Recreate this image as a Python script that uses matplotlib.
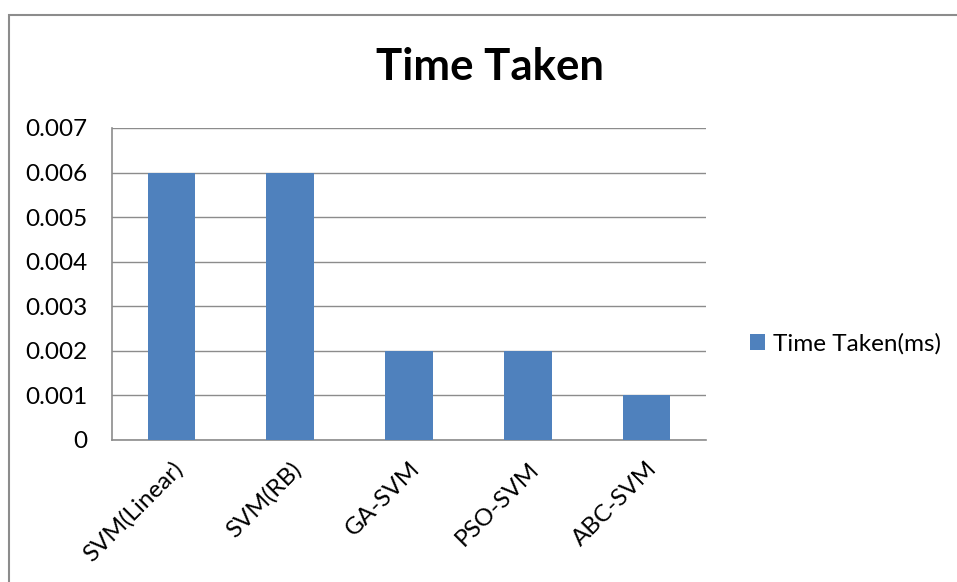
import matplotlib
matplotlib.use("Agg")
import matplotlib.pyplot as plt
from matplotlib.patches import Rectangle, Patch
from matplotlib.transforms import ScaledTranslation
import numpy as np

plt.rcParams['font.family'] = ['Lato', 'DejaVu Sans']

categories = ["SVM(Linear)", "SVM(RB)", "GA-SVM", "PSO-SVM", "ABC-SVM"]
values = [0.006, 0.006, 0.002, 0.002, 0.001]
yticks = [0, 0.001, 0.002, 0.003, 0.004, 0.005, 0.006, 0.007]
ytick_labels = ["0", "0.001", "0.002", "0.003", "0.004", "0.005", "0.006", "0.007"]
series_name = "Time Taken(ms)"
title = "Time Taken"
bar_color = "#4F81BD"

W, H = 957, 582
fig = plt.figure(figsize=(W / 100, H / 100), dpi=100)

# outer chart border
fig.patches.append(Rectangle((9 / W, -0.1), 1.2, 1 - 15 / H + 0.1, transform=fig.transFigure,
                             fill=False, edgecolor="#8c8c8c", linewidth=1.5))

left, right, top, bottom = 112, 706, 128, 440
ax = fig.add_axes([left / W, 1 - bottom / H, (right - left) / W, (bottom - top) / H])

fs = 17.5
x = np.arange(len(categories))
ax.bar(x, values, width=0.4, color=bar_color, zorder=3)
ax.set_xlim(-0.5, len(categories) - 0.5)
ax.set_ylim(0, 0.007)
ax.set_yticks(yticks)
ax.set_yticklabels(ytick_labels, fontsize=fs)
ax.set_xticks(x)
ax.set_xticklabels(categories, rotation=45, ha="right", va="top", rotation_mode="anchor",
                   fontsize=fs)
off = ScaledTranslation(5 / 100, 0, fig.dpi_scale_trans)
for lbl in ax.get_xticklabels():
    lbl.set_transform(lbl.get_transform() + off)
ax.tick_params(axis="y", length=0, pad=18)
ax.tick_params(axis="x", length=0, pad=13)
ax.grid(axis="y", color="#8c8c8c", linewidth=1, zorder=0)
for s in ["top", "right"]:
    ax.spines[s].set_visible(False)
for s in ["left", "bottom"]:
    ax.spines[s].set_color("#8c8c8c")
    ax.spines[s].set_linewidth(1.2)

fig.text(490 / W, 1 - 67 / H, title, ha="center", va="center", fontsize=31.5, fontweight="bold")

handle = Patch(facecolor=bar_color, edgecolor="none")
fig.legend([handle], [series_name], loc="center left", bbox_to_anchor=(750 / W, 1 - 344 / H),
           frameon=False, fontsize=fs, handlelength=0.6, handleheight=0.6, handletextpad=0.35,
           borderpad=0, borderaxespad=0)

fig.savefig("out.png", dpi=100)
